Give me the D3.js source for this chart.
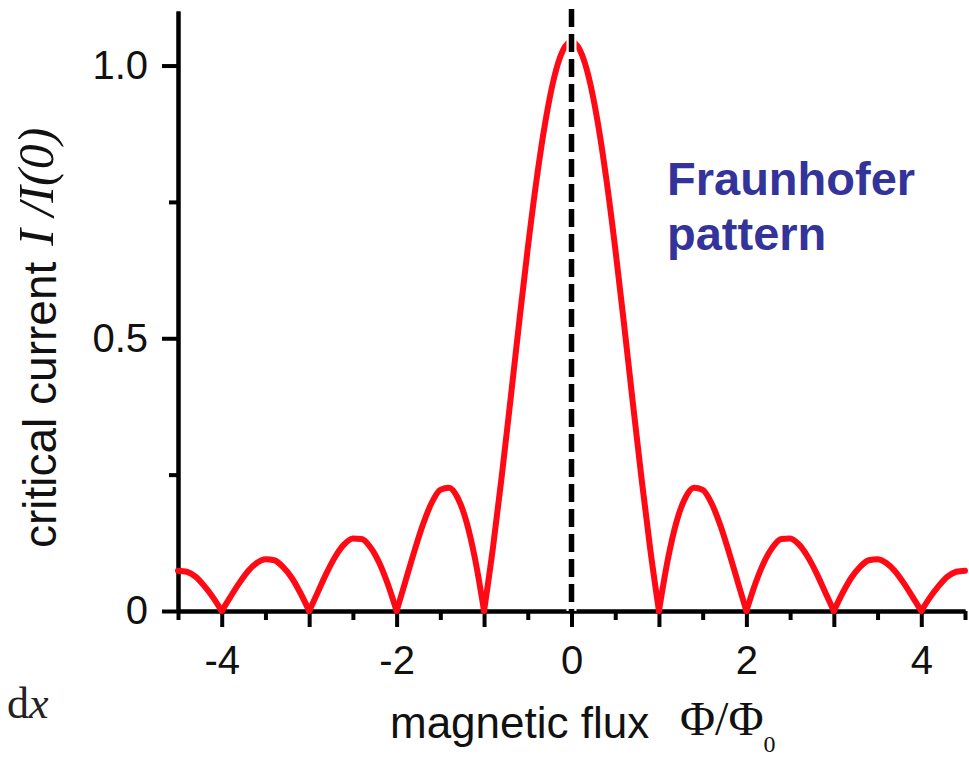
<!DOCTYPE html>
<html>
<head>
<meta charset="utf-8">
<script src="https://cdn.jsdelivr.net/npm/d3@7"></script>
<style>
  body { margin: 0; background: #fff; }
  svg { display: block; }
</style>
</head>
<body>
<svg id="chart" width="969" height="759"></svg>
<script>
// magnetic flux Phi/Phi0 (x) and critical current I/I(0) (y)
const flux = [
  -4.5, -4.4, -4.3, -4.2, -4.1, -4.0, -3.9, -3.8, -3.7, -3.6,
  -3.5, -3.4, -3.3, -3.2, -3.1, -3.0, -2.9, -2.8, -2.7, -2.6,
  -2.5, -2.4, -2.3, -2.2, -2.1, -2.0, -1.9, -1.8, -1.7, -1.6,
  -1.5, -1.4, -1.3, -1.2, -1.1, -1.0, -0.9, -0.8, -0.7, -0.6,
  -0.5, -0.4, -0.3, -0.2, -0.1, 0.0, 0.1, 0.2, 0.3, 0.4,
  0.5, 0.6, 0.7, 0.8, 0.9, 1.0, 1.1, 1.2, 1.3, 1.4,
  1.5, 1.6, 1.7, 1.8, 1.9, 2.0, 2.1, 2.2, 2.3, 2.4,
  2.5, 2.6, 2.7, 2.8, 2.9, 3.0, 3.1, 3.2, 3.3, 3.4,
  3.5, 3.6, 3.7, 3.8, 3.9, 4.0, 4.1, 4.2, 4.3, 4.4,
  4.5
]
const current = [
  0.074, 0.072, 0.063, 0.046, 0.025, 0, 0.026, 0.051, 0.073, 0.088,
  0.095, 0.093, 0.081, 0.061, 0.033, 0, 0.035, 0.070, 0.100, 0.122,
  0.133, 0.132, 0.117, 0.089, 0.049, 0, 0.054, 0.108, 0.158, 0.198,
  0.222, 0.226, 0.207, 0.163, 0.093, 0, 0.114, 0.244, 0.384, 0.527,
  0.665, 0.790, 0.896, 0.977, 1.027, 1.044, 1.027, 0.977, 0.896, 0.790,
  0.665, 0.527, 0.384, 0.244, 0.114, 0, 0.093, 0.163, 0.207, 0.226,
  0.222, 0.198, 0.158, 0.108, 0.054, 0, 0.049, 0.089, 0.117, 0.132,
  0.133, 0.122, 0.100, 0.070, 0.035, 0, 0.033, 0.061, 0.081, 0.093,
  0.095, 0.088, 0.073, 0.051, 0.026, 0, 0.025, 0.046, 0.063, 0.072,
  0.074
]

const xMajorTicks = [-4, -3, -2, -1, 0, 1, 2, 3, 4]
const xTickLabels = ['-4', '', '-2', '', '0', '', '2', '', '4']
const xMinorTicks = [-4.5, -3.5, -2.5, -1.5, -0.5, 0.5, 1.5, 2.5, 3.5, 4.5]
const yMajorTicks = [0, 0.5, 1.0]
const yTickLabels = ['0', '0.5', '1.0']
const yMinorTicks = [0.25, 0.75]

const svg = d3.select('#chart')
const sans = 'Liberation Sans, Arial, sans-serif'
const serif = 'Liberation Serif, Times New Roman, serif'

const x = d3.scaleLinear().domain([-4.5, 4.5]).range([178, 965])
const y = d3.scaleLinear().domain([0, 1.1]).range([611, 11])

const styleAxis = g => {
  g.select('.domain').attr('stroke', '#000').attr('stroke-width', 4)
  g.selectAll('.tick line').attr('stroke', '#000').attr('stroke-width', 4)
  g.selectAll('.tick text')
    .attr('fill', '#111')
    .attr('font-family', sans)
    .attr('font-size', 40)
}

// x axis, minor then major
svg.append('g')
  .attr('transform', `translate(0,${y(0)})`)
  .call(d3.axisBottom(x).tickValues(xMinorTicks).tickSize(9).tickSizeOuter(0).tickFormat(''))
  .call(styleAxis)

svg.append('g')
  .attr('transform', `translate(0,${y(0)})`)
  .call(d3.axisBottom(x).tickValues(xMajorTicks).tickSize(16).tickSizeOuter(0)
    .tickPadding(19).tickFormat((d, i) => xTickLabels[i]))
  .call(styleAxis)

// y axis
svg.append('g')
  .attr('transform', `translate(${x(-4.5)},0)`)
  .call(d3.axisLeft(y).tickValues(yMinorTicks).tickSize(9).tickSizeOuter(0).tickFormat(''))
  .call(styleAxis)

svg.append('g')
  .attr('transform', `translate(${x(-4.5)},0)`)
  .call(d3.axisLeft(y).tickValues(yMajorTicks).tickSize(16).tickSizeOuter(0)
    .tickPadding(14).tickFormat((d, i) => yTickLabels[i]))
  .call(styleAxis)

// split the curve into lobes at its zeros so the cusps stay sharp
const points = flux.map((f, i) => [f, current[i]])
const lobes = []
let seg = []
points.forEach(p => {
  seg.push(p)
  if (p[1] === 0 && seg.length > 1) {
    lobes.push(seg)
    seg = [p]
  }
})
if (seg.length > 1) lobes.push(seg)

const line = d3.line()
  .x(d => x(d[0]))
  .y(d => y(d[1]))
  .curve(d3.curveMonotoneX)

svg.append('g')
  .selectAll('path')
  .data(lobes)
  .join('path')
  .attr('d', line)
  .attr('fill', 'none')
  .attr('stroke', '#ff0a14')
  .attr('stroke-width', 6)
  .attr('stroke-linecap', 'round')
  .attr('stroke-linejoin', 'round')

// dashed marker at zero flux
const dash = g => g
  .attr('x1', x(0)).attr('x2', x(0))
  .attr('y1', 9).attr('y2', y(0))
  .attr('stroke-dasharray', '18 7')

svg.append('line').call(dash).attr('stroke', '#fff').attr('stroke-width', 10)
svg.append('line').call(dash).attr('stroke', '#000').attr('stroke-width', 5.5)

// axis titles
svg.append('text')
  .attr('transform', 'translate(56,548) rotate(-90)')
  .attr('font-family', sans)
  .attr('font-size', 46)
  .attr('fill', '#111')
  .text('critical current')
  .append('tspan')
  .attr('font-family', serif)
  .attr('font-style', 'italic')
  .attr('font-size', 50)
  .attr('dx', 16)
  .attr('dy', -3)
  .text('I /I(0)')

svg.append('text')
  .attr('x', 390).attr('y', 738)
  .attr('font-family', sans)
  .attr('font-size', 44)
  .attr('fill', '#111')
  .text('magnetic flux')

const phi = svg.append('text')
  .attr('x', 680).attr('y', 735)
  .attr('font-family', serif)
  .attr('font-size', 48)
  .attr('fill', '#111')
phi.append('tspan').text('Φ/Φ')
phi.append('tspan').attr('font-size', 24).attr('dy', 17).text('0')

const dx = svg.append('text')
  .attr('x', 7).attr('y', 718)
  .attr('font-family', serif)
  .attr('font-size', 44)
  .attr('fill', '#222')
dx.append('tspan').text('d')
dx.append('tspan').attr('font-style', 'italic').text('x')

// annotation
svg.append('text')
  .attr('font-family', sans)
  .attr('font-weight', 'bold')
  .attr('font-size', 47)
  .attr('fill', '#333399')
  .selectAll('tspan')
  .data(['Fraunhofer', 'pattern'])
  .join('tspan')
  .attr('x', 667)
  .attr('y', (d, i) => 195 + i * 55)
  .text(d => d)
</script>
</body>
</html>
